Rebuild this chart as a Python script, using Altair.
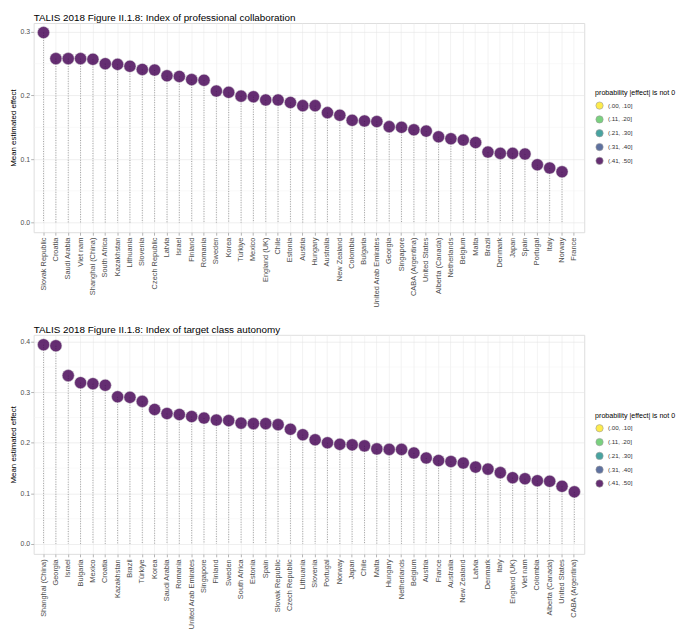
import altair as alt
import pandas as pd

# ---- data ----
collab_countries = [
    "Slovak Republic", "Croatia", "Saudi Arabia", "Viet nam", "Shanghai (China)",
    "South Africa", "Kazakhstan", "Lithuania", "Slovenia", "Czech Republic",
    "Latvia", "Israel", "Finland", "Romania", "Sweden", "Korea", "Türkiye",
    "Mexico", "England (UK)", "Chile", "Estonia", "Austria", "Hungary",
    "Australia", "New Zealand", "Colombia", "Bulgaria", "United Arab Emirates",
    "Georgia", "Singapore", "CABA (Argentina)", "United States",
    "Alberta (Canada)", "Netherlands", "Belgium", "Malta", "Brazil", "Denmark",
    "Japan", "Spain", "Portugal", "Italy", "Norway", "France",
]
collab_values = [
    0.299, 0.258, 0.258, 0.258, 0.257, 0.250, 0.249, 0.246, 0.241, 0.240,
    0.231, 0.230, 0.225, 0.224, 0.207, 0.205, 0.199, 0.198, 0.193, 0.193,
    0.189, 0.184, 0.184, 0.173, 0.169, 0.161, 0.160, 0.159, 0.151, 0.150,
    0.146, 0.144, 0.135, 0.132, 0.130, 0.126, 0.111, 0.109, 0.109, 0.108,
    0.091, 0.086, 0.080, None,
]

auto_countries = [
    "Shanghai (China)", "Georgia", "Israel", "Bulgaria", "Mexico", "Croatia",
    "Kazakhstan", "Brazil", "Türkiye", "Korea", "Saudi Arabia", "Romania",
    "United Arab Emirates", "Singapore", "Finland", "Sweden", "South Africa",
    "Estonia", "Spain", "Slovak Republic", "Czech Republic", "Lithuania",
    "Slovenia", "Portugal", "Norway", "Japan", "Chile", "Malta", "Hungary",
    "Netherlands", "Belgium", "Austria", "France", "Australia", "New Zealand",
    "Latvia", "Denmark", "Italy", "England (UK)", "Viet nam", "Colombia",
    "Alberta (Canada)", "United States", "CABA (Argentina)",
]
auto_values = [
    0.394, 0.392, 0.333, 0.319, 0.317, 0.314, 0.291, 0.290, 0.282, 0.266,
    0.258, 0.256, 0.252, 0.249, 0.245, 0.244, 0.239, 0.238, 0.238, 0.236,
    0.227, 0.216, 0.206, 0.200, 0.197, 0.196, 0.194, 0.188, 0.187, 0.187,
    0.180, 0.170, 0.165, 0.163, 0.160, 0.152, 0.148, 0.141, 0.131, 0.129,
    0.125, 0.124, 0.114, 0.103,
]

prob_labels = ["(.00, .10]", "(.11, .20]", "(.21, .30]", "(.31, .40]", "(.41, .50]"]
prob_colors = ["#FDE725", "#5DC863", "#21908C", "#3B528B", "#440154"]
collab_prob = ["(.41, .50]"] * len(collab_countries)
auto_prob = ["(.41, .50]"] * len(auto_countries)

collab_major = [0.0, 0.1, 0.2, 0.3]
collab_minor = [0.05, 0.15, 0.25]
auto_major = [0.0, 0.1, 0.2, 0.3, 0.4]
auto_minor = [0.05, 0.15, 0.25, 0.35]

FONT = "Liberation Sans"
W = 558


def panel(countries, values, probs, title, ydomain, major, minor, H, legend_y):
    df = pd.DataFrame({"country": countries, "value": values, "prob": probs})
    yscale = alt.Scale(domain=ydomain, nice=False, zero=False)
    x = alt.X(
        "country:N", sort=countries, title=None,
        scale=alt.Scale(padding=0.6),
        axis=alt.Axis(labelAngle=-90, labelFontSize=7.5, labelColor="#4d4d4d",
                      labelFont=FONT, labelPadding=2, tickSize=3,
                      tickColor="#b3b3b3", domain=False, grid=True,
                      gridColor="#ebebeb", gridWidth=0.6),
    )
    yaxis = alt.Axis(values=major, format=".1f", labelFontSize=7,
                     labelColor="#4d4d4d", labelFont=FONT, labelPadding=1,
                     tickSize=3, tickColor="#b3b3b3", domain=False, grid=True,
                     gridColor="#e3e3e3", gridWidth=0.6,
                     title="Mean estimated effect", titleFontSize=8,
                     titleFont=FONT, titleFontWeight="normal", titleColor="#000",
                     titlePadding=3)
    minor_df = pd.DataFrame({"m": minor})
    grid = alt.Chart(minor_df).mark_rule(color="#f2f2f2", strokeWidth=0.5).encode(
        y=alt.Y("m:Q", scale=yscale, axis=yaxis)
    )
    rules = alt.Chart(df).mark_rule(
        strokeDash=[1, 1.5], color="#8c8c8c", strokeWidth=0.8
    ).encode(
        x=x, y=alt.Y("value:Q", scale=yscale, axis=yaxis), y2=alt.datum(0)
    )
    pts = alt.Chart(df).mark_circle(
        size=150, opacity=0.82, stroke="#d0d0d0", strokeWidth=0.5
    ).encode(
        x=x,
        y=alt.Y("value:Q", scale=yscale, axis=yaxis),
        color=alt.Color(
            "prob:N",
            scale=alt.Scale(domain=prob_labels, range=prob_colors),
            legend=alt.Legend(
                title="probability |effect| is not 0", orient="none",
                legendX=W + 11, legendY=legend_y,
                titleFontSize=7.2, titleFont=FONT, titleFontWeight="normal",
                titleColor="#000", labelFontSize=6.3, labelFont=FONT,
                labelColor="#333", symbolSize=55, symbolType="circle",
                symbolStrokeColor="#888", symbolStrokeWidth=0.6,
                symbolOpacity=0.82, rowPadding=3, titlePadding=5,
            ),
        ),
    )
    return alt.layer(grid, rules, pts).properties(
        width=W, height=H,
        title=alt.TitleParams(title, anchor="start", frame="group",
                              fontSize=10, font=FONT, fontWeight="normal",
                              color="#000", offset=0),
    )


top = panel(collab_countries, collab_values, collab_prob,
            "TALIS 2018 Figure II.1.8: Index of professional collaboration",
            [-0.015, 0.314], collab_major, collab_minor, 212, 67)
bottom = panel(auto_countries, auto_values, auto_prob,
               "TALIS 2018 Figure II.1.8: Index of target class autonomy",
               [-0.0197, 0.4137], auto_major, auto_minor, 222, 78)

chart = alt.vconcat(top, bottom, spacing=16).resolve_scale(
    color="independent"
).resolve_legend(color="independent").properties(
    padding=0
).configure_view(stroke="#d4d4d4", strokeWidth=0.8).configure(
    background="white"
)

chart.save("out.html", embed_options={"renderer": "svg", "actions": False})
